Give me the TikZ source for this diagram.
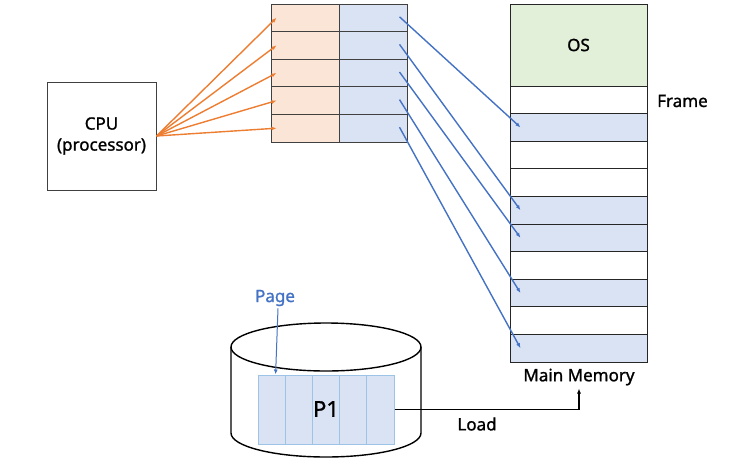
\documentclass[tikz,border=0pt]{standalone}
\usepackage{fontspec}
\setmainfont{Noto Sans}[BoldFont={Noto Sans}, BoldFeatures={FakeBold=1.2}]
\usetikzlibrary{arrows.meta}

\definecolor{orangeline}{HTML}{ED7D31}
\definecolor{orangefill}{HTML}{FBE5D6}
\definecolor{blueline}{HTML}{4472C4}
\definecolor{bluefill}{HTML}{DAE3F3}
\definecolor{greenfill}{HTML}{E2F0D9}
\definecolor{pageline}{HTML}{9DC3E6}

\tikzset{
  cell/.style={draw=black!75, line width=1pt, minimum width=68pt, minimum height=27.6pt, inner sep=0pt},
  frame/.style={draw=black!85, line width=1pt, minimum width=137pt, minimum height=27.6pt, inner sep=0pt},
  pagecell/.style={draw=pageline, fill=bluefill, line width=1pt, minimum width=27.2pt, minimum height=69pt, inner sep=0pt},
  maparrow/.style={line width=1.4pt, -{Latex[length=5pt,width=4pt]}},
  lbl/.style={font=\fontsize{17}{21}\selectfont\bfseries, inner sep=2pt}
}

\begin{document}
\begin{tikzpicture}[x=1pt,y=-1pt]
\useasboundingbox (0,0) rectangle (751,464);

% CPU
\node[draw=black!75, line width=1pt, minimum width=109pt, minimum height=108pt, align=center, lbl] (cpu) at (101.5,136) {CPU\\(processor)};

% page table
\foreach \i in {0,...,4} {
  \node[cell, fill=orangefill] (pl\i) at (305, {17.8+27.6*\i}) {};
  \node[cell, fill=bluefill] (pr\i) at (373, {17.8+27.6*\i}) {};
}

% main memory
\node[frame, fill=greenfill, minimum height=82pt, lbl] (os) at (578.5,45) {OS};
\foreach \j in {0,2,3,6,8}
  \node[frame, fill=white] (f\j) at (578.5, {99.8+27.6*\j}) {};
\foreach \j in {1,4,5,7,9}
  \node[frame, fill=bluefill] (f\j) at (578.5, {99.8+27.6*\j}) {};
\node[lbl, anchor=west] (framelbl) at (655,101) {Frame};
\node[lbl] (mmlbl) at (579,377) {Main Memory};

% CPU -> page table
\foreach \i in {0,...,4}
  \draw[maparrow, orangeline] (cpu.east) -- ([xshift=6pt]pl\i.west);

% page table -> frames
\foreach \i/\j in {0/1,1/4,2/5,3/7,4/9}
  \draw[maparrow, blueline] ([xshift=-8pt,yshift=1pt]pr\i.east) -- ([xshift=11pt]f\j.west);

% disk
\draw[line width=1.4pt] (326,347) ellipse [x radius=95pt, y radius=24pt];
\draw[line width=1.4pt] (231,347) -- (231,433) arc [start angle=180, end angle=360, x radius=95pt, y radius=24pt] -- (421,347);

% process P1 pages
\foreach \k in {0,...,4}
  \node[pagecell] (pg\k) at ({271.6+27.2*\k}, 409.5) {};
\node[font=\fontsize{22}{26}\selectfont\bfseries] (p1) at (326,409) {P1};
\node[lbl, text=blueline] (pagelbl) at (275,298) {Page};
\draw[blueline, line width=1pt, -{Latex[length=5pt,width=4pt]}] ([xshift=3pt]pagelbl.south) -- ([xshift=4pt]pg0.north);

% load
\draw[line width=1.3pt, -{Latex[length=5pt,width=4pt]}] (pg4.east) -| ([yshift=-1pt]mmlbl.south);
\node[lbl] (loadlbl) at (477,424) {Load};
\end{tikzpicture}
\end{document}
